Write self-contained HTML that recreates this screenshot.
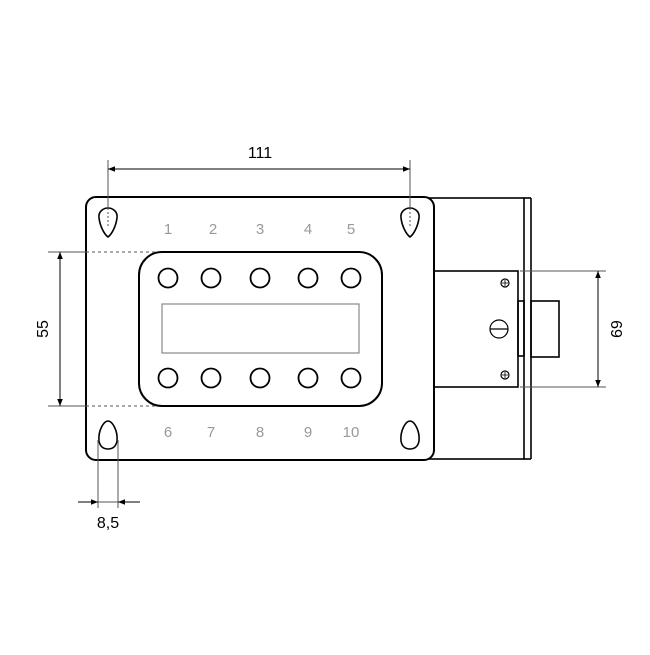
<!DOCTYPE html>
<html><head><style>body{margin:0;background:#fff}</style></head><body>
<svg width="650" height="650" viewBox="0 0 650 650" xmlns="http://www.w3.org/2000/svg" font-family="Liberation Sans, sans-serif">
<rect width="650" height="650" fill="#fff"/>
<defs>
<marker id="a" viewBox="0 0 10 10" refX="10" refY="5" markerWidth="7" markerHeight="7" orient="auto-start-reverse"><path d="M0,1 L10,5 L0,9z" fill="#000"/></marker>
</defs>
<g fill="none" stroke="#000" stroke-width="1.6">
<rect x="424" y="198" width="100" height="261"/>
<line x1="531" y1="198" x2="531" y2="459"/>
<line x1="524" y1="198" x2="531" y2="198"/><line x1="524" y1="459" x2="531" y2="459"/>
<rect x="434" y="271" width="84" height="116" fill="#fff"/>
<rect x="518" y="301" width="6" height="55"/>
<rect x="531" y="301" width="28" height="56"/>
<path d="M96,197 H424 A10,10 0 0 1 434,207 V450 A10,10 0 0 1 424,460 H96 A10,10 0 0 1 86,450 V207 A10,10 0 0 1 96,197Z" fill="#fff" stroke-width="2"/>
<rect x="139" y="252" width="243" height="154" rx="23" stroke-width="2"/>
<rect x="162" y="304" width="197" height="49" stroke="#888" stroke-width="1.2"/>
<g stroke-width="1.8">
<circle cx="168" cy="278" r="9.5"/><circle cx="211" cy="278" r="9.5"/><circle cx="260" cy="278" r="9.5"/><circle cx="308" cy="278" r="9.5"/><circle cx="351" cy="278" r="9.5"/>
<circle cx="168" cy="378" r="9.5"/><circle cx="211" cy="378" r="9.5"/><circle cx="260" cy="378" r="9.5"/><circle cx="308" cy="378" r="9.5"/><circle cx="351" cy="378" r="9.5"/>
</g>
<g stroke-width="1.6">
<path d="M108,208 C112,208 118,211 117,218 C116,226 112,234 108,237 C104,234 100,226 99,218 C98,211 104,208 108,208Z"/>
<path d="M410,208 C414,208 420,211 419,218 C418,226 414,234 410,237 C406,234 402,226 401,218 C400,211 406,208 410,208Z"/>
<path d="M108,421 C104,421 98,430 99,441 C100,447 104,449 108,449 C112,449 116,447 117,441 C118,430 112,421 108,421Z"/>
<path d="M410,421 C406,421 400,430 401,441 C402,447 406,449 410,449 C414,449 418,447 419,441 C420,430 414,421 410,421Z"/>
</g>
<g stroke-width="1.2"><circle cx="505" cy="283" r="4"/><circle cx="505" cy="375" r="4"/><circle cx="499" cy="329" r="9"/>
<line x1="490" y1="329" x2="508" y2="329"/>
<path d="M502,283h6M505,280v6M502,375h6M505,372v6" stroke-width="0.8"/></g>
</g>
<g stroke="#555" stroke-width="1" fill="none">
<line x1="108" y1="160" x2="108" y2="208"/><line x1="410" y1="160" x2="410" y2="208"/>
<line x1="108" y1="208" x2="108" y2="226" stroke-dasharray="2,2"/><line x1="410" y1="208" x2="410" y2="226" stroke-dasharray="2,2"/>
<line x1="108" y1="169" x2="410" y2="169" stroke="#000" marker-start="url(#a)" marker-end="url(#a)"/>
<line x1="48" y1="252" x2="86" y2="252"/><line x1="48" y1="406" x2="86" y2="406"/>
<line x1="86" y1="252" x2="158" y2="252" stroke-dasharray="3,3"/><line x1="86" y1="406" x2="158" y2="406" stroke-dasharray="3,3"/>
<line x1="60" y1="252" x2="60" y2="406" stroke="#000" marker-start="url(#a)" marker-end="url(#a)"/>
<line x1="98" y1="440" x2="98" y2="508"/><line x1="118" y1="440" x2="118" y2="508"/>
<line x1="78" y1="502" x2="98" y2="502" stroke="#000" marker-end="url(#a)"/>
<line x1="140" y1="502" x2="118" y2="502" stroke="#000" marker-end="url(#a)"/>
<line x1="98" y1="502" x2="118" y2="502"/>
<line x1="520" y1="271" x2="606" y2="271"/><line x1="520" y1="387" x2="606" y2="387"/>
<line x1="598" y1="271" x2="598" y2="387" stroke="#000" marker-start="url(#a)" marker-end="url(#a)"/>
</g>
<g font-size="16" fill="#000" text-anchor="middle">
<text x="260" y="158">111</text>
<text x="108" y="528">8,5</text>
<text transform="translate(48,329) rotate(-90)">55</text>
<text transform="translate(611,329) rotate(90)">69</text>
</g>
<g font-size="15" fill="#999" text-anchor="middle">
<text x="168" y="234">1</text><text x="213" y="234">2</text><text x="260" y="234">3</text><text x="308" y="234">4</text><text x="351" y="234">5</text>
<text x="168" y="437">6</text><text x="211" y="437">7</text><text x="260" y="437">8</text><text x="308" y="437">9</text><text x="351" y="437">10</text>
</g>
</svg>
</body></html>
